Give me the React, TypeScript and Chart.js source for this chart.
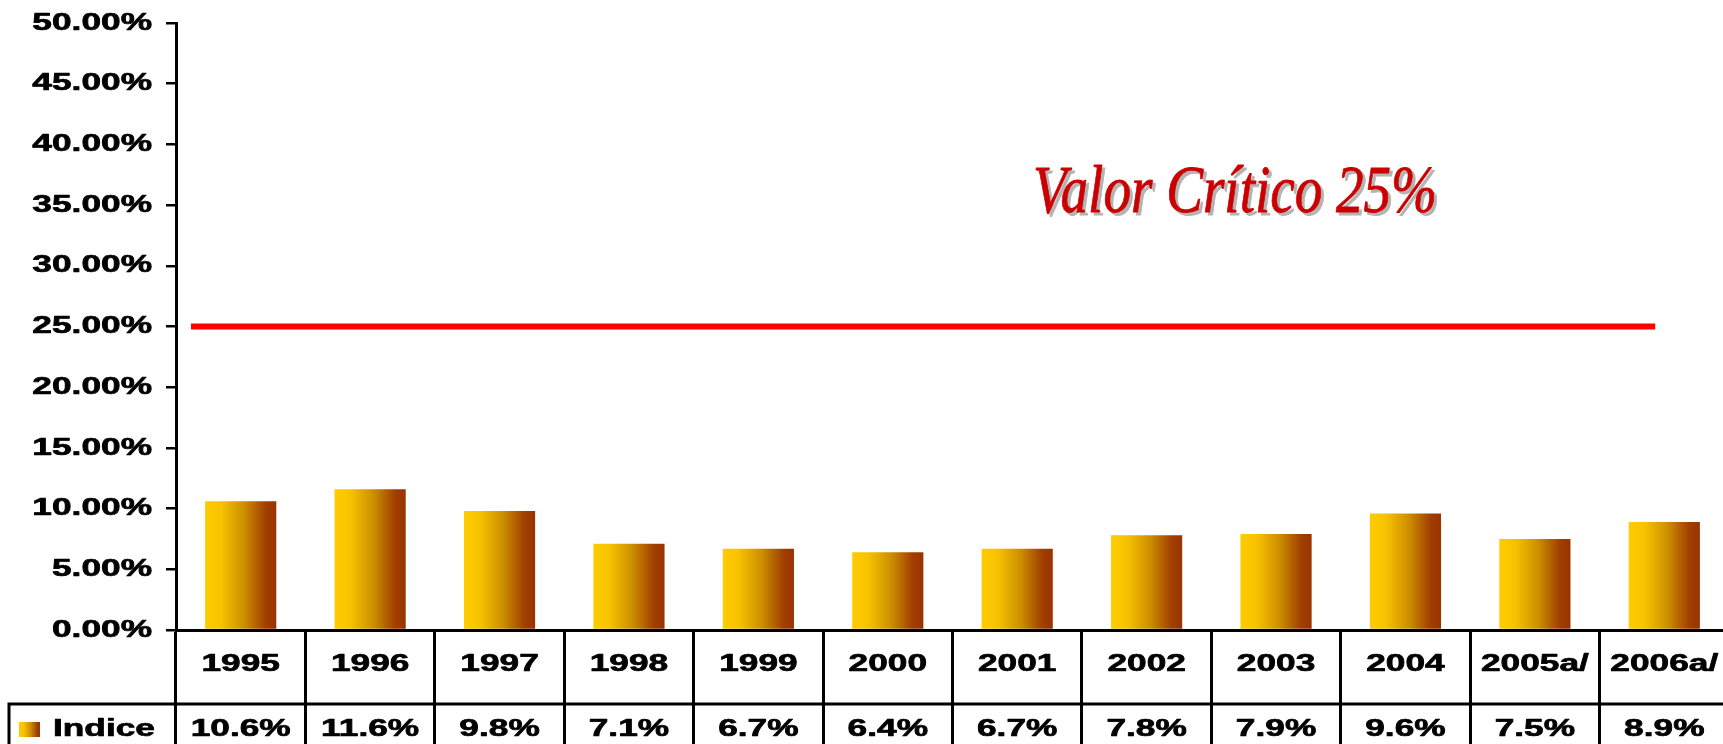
import React, { useEffect, useRef } from "react";
import { Chart, registerables } from "chart.js";

Chart.register(...registerables);

// ---- data ----
const CATEGORIES = ["1995", "1996", "1997", "1998", "1999", "2000", "2001", "2002", "2003", "2004", "2005a/", "2006a/"];
const INDICE = [10.6, 11.6, 9.8, 7.1, 6.7, 6.4, 6.7, 7.8, 7.9, 9.6, 7.5, 8.9];
const VALUE_LABELS = ["10.6%", "11.6%", "9.8%", "7.1%", "6.7%", "6.4%", "6.7%", "7.8%", "7.9%", "9.6%", "7.5%", "8.9%"];
const SERIES_NAME = "Indice";
const Y_MIN = 0;
const Y_MAX = 50;
const Y_STEP = 5;
const CRITICAL = 25;
const CRITICAL_SPAN = [-0.384, 10.93]; // in category units
const TITLE = "Valor Crítico 25%";

// ---- styles ----
const GRADIENT_STOPS: [number, string][] = [
  [0, "#FFCC00"],
  [0.22, "#F7C300"],
  [0.55, "#CC8E00"],
  [0.85, "#A13F00"],
  [1, "#993300"],
];
const FONT = 'bold 24px "Liberation Sans", Arial, sans-serif';
const SX = 1.47;
const BAR_PCT = 0.55;

function barGradient(ctx: CanvasRenderingContext2D, x0: number, x1: number) {
  if (!Number.isFinite(x0) || !Number.isFinite(x1) || x1 <= x0) return GRADIENT_STOPS[0][1];
  const g = ctx.createLinearGradient(x0, 0, x1, 0);
  GRADIENT_STOPS.forEach(([o, c]) => g.addColorStop(o, c));
  return g;
}

function drawStretched(
  ctx: CanvasRenderingContext2D,
  text: string,
  x: number,
  y: number,
  align: CanvasTextAlign,
  sx: number,
  embolden = 0
) {
  ctx.save();
  ctx.translate(x, y);
  ctx.scale(sx, 1);
  ctx.textAlign = align;
  ctx.fillText(text, 0, 0);
  if (embolden > 0) {
    ctx.lineWidth = embolden;
    ctx.strokeStyle = ctx.fillStyle as string;
    ctx.lineJoin = "round";
    ctx.strokeText(text, 0, 0);
  }
  ctx.restore();
}

const criticalLinePlugin = {
  id: "criticalLine",
  afterDatasetsDraw(chart: any) {
    const { ctx, scales } = chart;
    const xs = scales.x;
    const ys = scales.y;
    const p0 = xs.getPixelForValue(0);
    const step = xs.getPixelForValue(1) - p0;
    const y = ys.getPixelForValue(CRITICAL);
    ctx.save();
    ctx.strokeStyle = "#FF0000";
    ctx.lineWidth = 6;
    ctx.lineCap = "butt";
    ctx.beginPath();
    ctx.moveTo(p0 + CRITICAL_SPAN[0] * step, y);
    ctx.lineTo(p0 + CRITICAL_SPAN[1] * step, y);
    ctx.stroke();
    ctx.restore();
  },
};

const tablePlugin = {
  id: "tablePlugin",
  afterDraw(chart: any) {
    const { ctx, chartArea, scales } = chart;
    const xs = scales.x;
    const ys = scales.y;
    ctx.save();
    ctx.fillStyle = "#000";
    ctx.textBaseline = "middle";
    ctx.font = FONT;

    // y tick labels
    ys.ticks.forEach((t: any) => {
      const y = ys.getPixelForValue(t.value);
      drawStretched(ctx, t.value.toFixed(2) + "%", chartArea.left - 24, y, "right", SX, 0.7);
    });

    // table lines
    const rowY = chartArea.bottom + 74;
    ctx.strokeStyle = "#000";
    ctx.lineWidth = 3;
    ctx.beginPath();
    ctx.moveTo(9, rowY);
    ctx.lineTo(chart.width, rowY);
    ctx.moveTo(9, rowY - 1.5);
    ctx.lineTo(9, rowY + 60);
    ctx.stroke();

    // category + value labels
    CATEGORIES.forEach((c, i) => {
      const x = xs.getPixelForValue(i);
      drawStretched(ctx, c, x, chartArea.bottom + 34, "center", SX, 0.7);
      drawStretched(ctx, VALUE_LABELS[i], x, rowY + 25, "center", SX, 0.7);
    });

    // legend key
    ctx.fillStyle = barGradient(ctx, 19, 40);
    ctx.fillRect(19, rowY + 18, 21, 15);
    ctx.fillStyle = "#000";
    drawStretched(ctx, SERIES_NAME, 53, rowY + 25, "left", SX, 0.7);

    // title annotation
    ctx.font = 'italic 68px "Liberation Serif", "Times New Roman", serif';
    ctx.textBaseline = "alphabetic";
    const w = ctx.measureText(TITLE).width;
    const tsx = 404 / w;
    ctx.fillStyle = "#B4B4B4";
    drawStretched(ctx, TITLE, 1235 + 3, 212 + 3, "center", tsx, 0.8);
    ctx.fillStyle = "#CC0000";
    drawStretched(ctx, TITLE, 1235, 212, "center", tsx, 0.8);
    ctx.restore();
  },
};

export default function App() {
  const ref = useRef<HTMLCanvasElement>(null);

  useEffect(() => {
    if (!ref.current) return;
    const chart = new Chart(ref.current, {
      type: "bar",
      data: {
        labels: CATEGORIES,
        datasets: [
          {
            label: SERIES_NAME,
            data: INDICE,
            barPercentage: BAR_PCT,
            categoryPercentage: 1,
            borderWidth: 0,
            backgroundColor: (c: any) => {
              const ch = c.chart;
              const xs = ch.scales && ch.scales.x;
              if (c.type !== "data" || !xs || !ch.chartArea) return GRADIENT_STOPS[0][1];
              const step = (ch.chartArea.right - ch.chartArea.left) / CATEGORIES.length;
              const cx = xs.getPixelForValue(c.dataIndex);
              const half = (step * BAR_PCT) / 2;
              return barGradient(ch.ctx, cx - half, cx + half);
            },
          },
        ],
      },
      options: {
        responsive: false,
        animation: false,
        devicePixelRatio: 1,
        layout: { padding: { left: 0, top: 23, right: 11, bottom: 10 } },
        plugins: { legend: { display: false }, tooltip: { enabled: false } },
        scales: {
          x: {
            type: "category",
            offset: true,
            ticks: { display: false },
            grid: {
              offset: true,
              drawOnChartArea: false,
              drawTicks: true,
              tickLength: 124,
              color: "#000",
              lineWidth: 3,
            },
            border: { display: true, color: "#000", width: 3 },
            afterFit: (s: any) => {
              s.height = 120;
            },
          },
          y: {
            min: Y_MIN,
            max: Y_MAX,
            ticks: { display: false, stepSize: Y_STEP },
            grid: {
              drawOnChartArea: false,
              drawTicks: true,
              tickLength: 10,
              color: "#000",
              lineWidth: 2.5,
            },
            border: { display: true, color: "#000", width: 3 },
            afterFit: (s: any) => {
              s.width = 176;
            },
          },
        } as any,
      },
      plugins: [criticalLinePlugin, tablePlugin],
    });
    return () => chart.destroy();
  }, []);

  return (
    <div
      style={{
        position: "fixed",
        left: 0,
        top: 0,
        width: 1723,
        height: 744,
        overflow: "hidden",
        background: "#fff",
      }}
    >
      <canvas ref={ref} width={1740} height={760} style={{ display: "block" }} />
    </div>
  );
}
